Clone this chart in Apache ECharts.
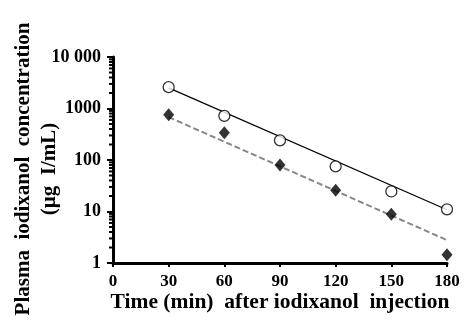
<!doctype html>
<html>
<head>
<meta charset="utf-8">
<title>Plasma iodixanol</title>
<script src="https://cdn.jsdelivr.net/npm/echarts@6/dist/echarts.min.js"></script>
<style>
html, body { margin: 0; padding: 0; background: #fff; }
#main { width: 466px; height: 328px; }
</style>
</head>
<body>
<div id="main"></div>
<script>
// time points (min)
var times = [30, 60, 90, 120, 150, 180];
// open circles
var circleVals = [2600, 720, 240, 75, 24.5, 11];
// filled diamonds
var diamondVals = [760, 340, 80, 26, 8.8, 1.45];
// fitted lines, end points
var circleFit = [[30, 2520], [180, 10.8]];
var diamondFit = [[30, 680], [184, 2.4]];
// y tick labels
var yTicks = { 1: '1', 10: '10', 100: '100', 1000: '1000', 10000: '10 000' };
// minor tick values for the log axis
var minorTicks = [];
[1, 10, 100, 1000].forEach(function (d) {
  for (var k = 2; k <= 9; k++) minorTicks.push(k * d);
});

var font = 'Liberation Serif';
var chart = echarts.init(document.getElementById('main'));

function pairs(xs, ys) {
  return xs.map(function (x, i) { return [x, ys[i]]; });
}

var option = {
  animation: false,
  grid: { left: 113, right: 19, top: 57, bottom: 65, outerBoundsMode: 'none', containLabel: false },
  xAxis: {
    type: 'value',
    min: 0, max: 180, interval: 30,
    name: 'Time (min)  after iodixanol  injection',
    nameLocation: 'middle',
    nameGap: 28,
    nameMoveOverlap: false,
    nameTextStyle: { fontFamily: font, fontWeight: 'bold', fontSize: 21.5, color: '#000' },
    axisLine: { lineStyle: { color: '#000', width: 3 } },
    axisTick: { length: 4, lineStyle: { color: '#000', width: 2 } },
    axisLabel: { fontFamily: font, fontWeight: 'bold', fontSize: 17, color: '#000', margin: 10 },
    splitLine: { show: false }
  },
  yAxis: {
    type: 'log',
    logBase: 10,
    min: 1, max: 10000,
    name: 'Plasma  iodixanol  concentration\n(\u00b5g  I/mL)',
    nameLocation: 'middle',
    nameRotate: 90,
    nameGap: 50,
    nameMoveOverlap: false,
    nameTextStyle: { fontFamily: font, fontWeight: 'bold', fontSize: 21, color: '#000', lineHeight: 26, padding: [0, 18, 0, 0] },
    axisLine: { show: true, lineStyle: { color: '#000', width: 3 } },
    axisTick: { show: true, length: 6, lineStyle: { color: '#000', width: 2 } },
    axisLabel: {
      fontFamily: font, fontWeight: 'bold', fontSize: 18, color: '#000', margin: 12,
      formatter: function (v) { return yTicks[Math.round(v)] || ''; }
    },
    splitLine: { show: false }
  },
  series: [{
    // minor ticks on the log axis
    type: 'custom',
    silent: true,
    clip: false,
    data: minorTicks.map(function (v) { return [0, v]; }),
    renderItem: function (params, api) {
      var p = api.coord([0, api.value(1)]);
      return {
        type: 'line',
        shape: { x1: p[0] - 4, y1: p[1], x2: p[0], y2: p[1] },
        style: { stroke: '#000', lineWidth: 2 }
      };
    }
  }, {
    type: 'line',
    data: circleFit,
    symbol: 'none',
    lineStyle: { color: '#000', width: 1.2 },
    silent: true
  }, {
    type: 'line',
    data: diamondFit,
    symbol: 'none',
    clip: false,
    lineStyle: { color: '#888', width: 2, type: [6, 3] },
    silent: true
  }, {
    type: 'scatter',
    data: pairs(times, circleVals),
    symbol: 'circle',
    symbolSize: 11,
    itemStyle: { color: '#fff', borderColor: '#000', borderWidth: 1.3 },
    z: 3
  }, {
    type: 'scatter',
    data: pairs(times, diamondVals),
    symbol: 'diamond',
    symbolSize: [11, 13],
    itemStyle: { color: '#000' },
    z: 3
  }]
};

chart.setOption(option);
</script>
</body>
</html>
